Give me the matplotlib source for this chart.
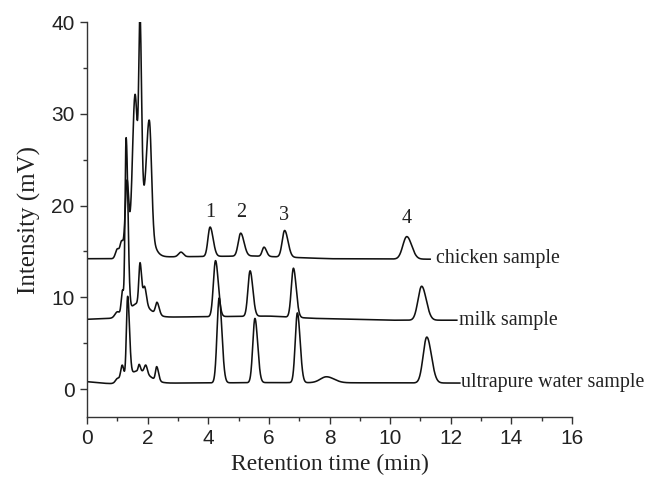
import numpy as np
import matplotlib
matplotlib.use("Agg")
import matplotlib.pyplot as plt
from matplotlib.ticker import MultipleLocator

# ---------------- data ----------------
# baseline anchors (time min, mV)
chicken_base_t = [0.0, 0.85, 2.5, 5.5, 8.0, 11.3]
chicken_base_v = [14.2, 14.2, 14.4, 14.5, 14.2, 14.15]
milk_base_t = [0.0, 0.8, 3.0, 6.0, 7.5, 10.0, 12.2]
milk_base_v = [7.6, 7.7, 7.85, 7.95, 7.7, 7.5, 7.5]
water_base_t = [0.0, 0.8, 3.0, 6.0, 12.3]
water_base_v = [0.8, 0.55, 0.65, 0.7, 0.65]

# peaks: retention time, height above baseline, left width, right width
chicken_rt = [1.00, 1.14, 1.32, 1.58, 1.75, 1.80, 2.06, 3.10, 4.06, 5.07, 5.84, 6.52, 10.55]
chicken_h = [1.0, 1.6, 7.5, 13.7, 19.3, 6.0, 11.4, 0.5, 3.2, 2.5, 1.0, 2.9, 2.45]
chicken_wl = [0.06, 0.05, 0.06, 0.08, 0.04, 0.25, 0.09, 0.08, 0.07, 0.08, 0.06, 0.08, 0.13]
chicken_wr = [0.06, 0.05, 0.054, 0.08, 0.05, 0.25, 0.07, 0.08, 0.10, 0.11, 0.08, 0.11, 0.16]

milk_rt = [1.00, 1.17, 1.29, 1.70, 1.75, 1.90, 2.31, 4.24, 5.38, 6.81, 11.04]
milk_h = [0.6, 2.6, 19.0, 1.6, 4.4, 2.0, 1.3, 6.1, 4.95, 5.35, 3.7]
milk_wl = [0.08, 0.04, 0.035, 0.30, 0.04, 0.05, 0.05, 0.07, 0.07, 0.07, 0.12]
milk_wr = [0.08, 0.04, 0.06, 0.35, 0.05, 0.06, 0.07, 0.09, 0.09, 0.09, 0.15]

water_rt = [1.00, 1.16, 1.34, 1.70, 1.72, 1.94, 2.30, 4.36, 5.54, 6.94, 7.90, 11.21]
water_h = [0.4, 1.6, 8.7, 1.4, 0.7, 0.9, 1.5, 9.25, 7.0, 7.6, 0.65, 5.0]
water_wl = [0.06, 0.05, 0.04, 0.35, 0.03, 0.05, 0.04, 0.07, 0.07, 0.07, 0.20, 0.12]
water_wr = [0.06, 0.05, 0.06, 0.35, 0.04, 0.05, 0.06, 0.09, 0.09, 0.09, 0.25, 0.15]

trace_names = ["chicken sample", "milk sample", "ultrapure water sample"]
trace_end = [11.32, 12.2, 12.3]
name_x = [11.52, 12.28, 12.33]
name_y = [14.2, 7.5, 0.75]

peak_labels = ["1", "2", "3", "4"]
peak_label_t = [4.06, 5.10, 6.50, 10.55]
peak_label_v = [19.2, 19.2, 18.9, 18.6]

xticks = [0, 2, 4, 6, 8, 10, 12, 14, 16]
yticks = [0, 10, 20, 30, 40]


def trace(t, base_t, base_v, rt, h, wl, wr):
    y = np.interp(t, base_t, base_v)
    for c, a, sl, sr in zip(rt, h, wl, wr):
        s = np.where(t < c, sl, sr)
        y = y + a * np.exp(-0.5 * ((t - c) / s) ** 2)
    return y


serif = ["Liberation Serif", "DejaVu Serif"]
sans = ["Liberation Sans", "DejaVu Sans"]

fig = plt.figure(figsize=(6.46, 4.80), dpi=100)
ax = fig.add_axes([87 / 646, 1 - 417 / 480, (572 - 87) / 646, (417 - 22) / 480])

sets = [
    (chicken_base_t, chicken_base_v, chicken_rt, chicken_h, chicken_wl, chicken_wr),
    (milk_base_t, milk_base_v, milk_rt, milk_h, milk_wl, milk_wr),
    (water_base_t, water_base_v, water_rt, water_h, water_wl, water_wr),
]
for (bt, bv, rt, h, wl, wr), end in zip(sets, trace_end):
    t = np.linspace(0, end, 4000)
    y = trace(t, bt, bv, rt, h, wl, wr)
    ax.plot(t, y, color="#111111", lw=1.15)

for name, nx, ny in zip(trace_names, name_x, name_y):
    ax.text(nx, ny, name, family=serif, fontsize=14.4, color="#222222",
            ha="left", va="center", clip_on=False)

for lab, tx, ty in zip(peak_labels, peak_label_t, peak_label_v):
    ax.text(tx, ty, lab, family=serif, fontsize=14.5, color="#222222",
            ha="center", va="center")

ax.set_xlim(0, 16)
ax.set_ylim(-3.05, 40)
ax.spines["top"].set_visible(False)
ax.spines["right"].set_visible(False)
for sp in ("left", "bottom"):
    ax.spines[sp].set_linewidth(1.0)
    ax.spines[sp].set_color("#333333")
ax.set_xticks(xticks)
ax.set_yticks(yticks)
ax.xaxis.set_minor_locator(MultipleLocator(1))
ax.yaxis.set_minor_locator(MultipleLocator(5))
ax.tick_params(which="major", direction="out", length=5, width=1.0, color="#333333",
               labelsize=15, pad=4)
ax.tick_params(which="minor", direction="out", length=3, width=1.0, color="#333333")
for lbl in ax.get_xticklabels() + ax.get_yticklabels():
    lbl.set_family(sans)
    lbl.set_color("#222222")

ax.set_xlabel("Retention time (min)", family=serif, fontsize=17, color="#222222",
              labelpad=4)
ax.set_ylabel("Intensity (mV)", family=serif, fontsize=18, color="#222222",
              labelpad=7)

fig.savefig("out.png", dpi=100)
